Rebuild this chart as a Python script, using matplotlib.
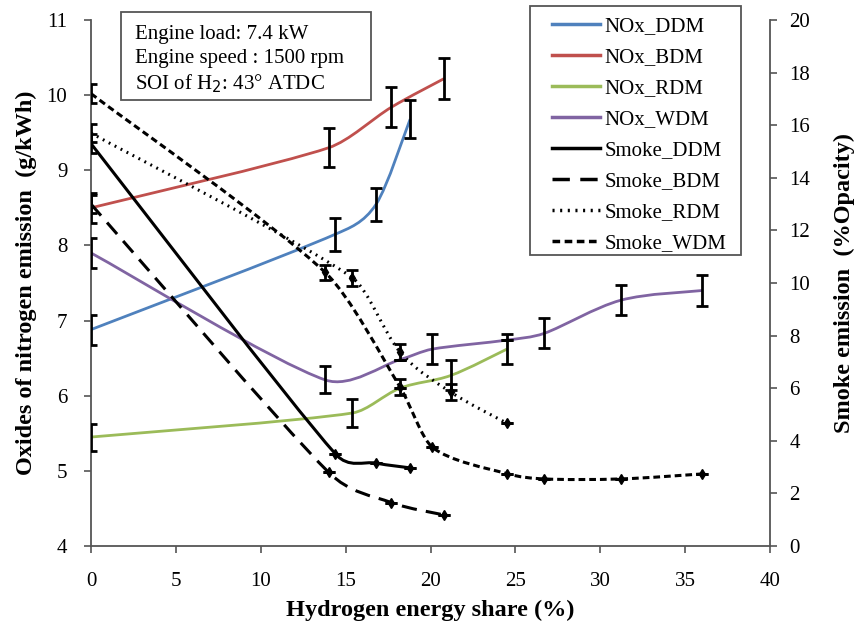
import matplotlib
matplotlib.use("Agg")
import matplotlib.pyplot as plt
import numpy as np
from matplotlib.path import Path
from matplotlib.patches import PathPatch, Rectangle
from matplotlib.lines import Line2D

plt.rcParams['font.family'] = ['Liberation Serif', 'DejaVu Serif']

# ---- data ----
x_ddm = [0, 14.4, 16.8, 18.8]
nox_ddm = [6.88, 8.15, 8.55, 9.68]
smoke_ddm = [15.3, 3.5, 3.15, 2.97]

x_bdm = [0, 14.0, 17.7, 20.8]
nox_bdm = [8.5, 9.3, 9.84, 10.22]
smoke_bdm = [13.0, 2.8, 1.65, 1.18]

x_rdm = [0, 15.4, 18.2, 21.2, 24.5]
nox_rdm = [5.45, 5.77, 6.1, 6.27, 6.62]
smoke_rdm = [15.7, 10.2, 7.38, 5.85, 4.67]

x_wdm = [0, 13.8, 18.2, 20.1, 24.5, 26.7, 31.2, 36.0]
nox_wdm = [7.9, 6.21, 6.48, 6.62, 6.74, 6.83, 7.27, 7.4]
smoke_wdm = [17.2, 10.4, 6.05, 3.76, 2.75, 2.55, 2.55, 2.74]

nox_err_ddm = [0.2, 0.22, 0.22, 0.25]
nox_err_bdm = [0.2, 0.26, 0.27, 0.27]
nox_err_rdm = [0.18, 0.18, 0.0, 0.2, 0.2]
nox_err_wdm = [0.2, 0.18, 0.0, 0.2, 0.0, 0.2, 0.2, 0.2]
smoke_err_ddm = [0.35, 0, 0, 0]
smoke_err_bdm = [0.35, 0, 0, 0]
smoke_err_rdm = [0.35, 0.3, 0.3, 0.3, 0]
smoke_err_wdm = [0.35, 0.3, 0.3, 0, 0, 0, 0, 0]

labels = ['NOx_DDM', 'NOx_BDM', 'NOx_RDM', 'NOx_WDM',
          'Smoke_DDM', 'Smoke_BDM', 'Smoke_RDM', 'Smoke_WDM']
colors = ['#4F81BD', '#C0504D', '#9BBB59', '#8064A2']
info_lines = ['Engine load: 7.4 kW', 'Engine speed : 1500 rpm',
              'SOI of H$_2$: 43° ATDC']


def smooth_path(xs, ys):
    """Excel-like smoothed line: Catmull-Rom Bezier handles, clipped so a
    handle never reaches past one third of its segment in x."""
    p = np.column_stack([xs, ys]).astype(float)
    n = len(p)
    T = np.zeros_like(p)
    for i in range(n):
        a = p[max(i - 1, 0)]
        b = p[min(i + 1, n - 1)]
        T[i] = (b - a) / 6.0
    verts = [tuple(p[0])]
    codes = [Path.MOVETO]
    for i in range(n - 1):
        h = p[i + 1, 0] - p[i, 0]
        t1 = T[i].copy()
        t2 = T[i + 1].copy()
        if abs(t1[0]) > h / 3:
            t1 *= (h / 3) / abs(t1[0])
        if abs(t2[0]) > h / 3:
            t2 *= (h / 3) / abs(t2[0])
        verts += [tuple(p[i] + t1), tuple(p[i + 1] - t2), tuple(p[i + 1])]
        codes += [Path.CURVE4] * 3
    return Path(verts, codes)


fig = plt.figure(figsize=(8.58, 6.31), dpi=100)
ax = fig.add_axes([91 / 858, 85 / 631, 679 / 858, 526 / 631])
ax2 = ax.twinx()

ax.set_xlim(0, 40)
ax.set_ylim(4, 11)
ax2.set_ylim(0, 20)
ax.set_xticks(np.arange(0, 41, 5))
ax.set_yticks(np.arange(4, 12, 1))
ax2.set_yticks(np.arange(0, 21, 2))

for a in (ax, ax2):
    a.spines['top'].set_visible(False)
    for s in a.spines.values():
        s.set_color('#555555')
        s.set_linewidth(1.3)
    a.tick_params(labelsize=15, length=5, color='#555555', width=1.2)
ax.spines['right'].set_visible(False)
ax2.spines['left'].set_visible(False)
ax2.spines['bottom'].set_visible(False)
ax.tick_params(axis='x', pad=14)
ax.tick_params(axis='y', pad=12)
ax2.tick_params(axis='y', pad=9)

# NOx series (left axis)
nox_sets = [(x_ddm, nox_ddm, nox_err_ddm), (x_bdm, nox_bdm, nox_err_bdm),
            (x_rdm, nox_rdm, nox_err_rdm), (x_wdm, nox_wdm, nox_err_wdm)]
for (xs, ys, es), c in zip(nox_sets, colors):
    ax.add_patch(PathPatch(smooth_path(xs, ys), facecolor='none',
                           edgecolor=c, lw=2.0, transform=ax.transData, zorder=3))
    ax.errorbar(xs, ys, yerr=es, fmt='none', ecolor='black', elinewidth=2,
                capsize=4, capthick=2, zorder=4)

# Smoke series (right axis)
smoke_styles = [dict(linestyle='-'),
                dict(linestyle=(0, (5, 3))),
                dict(linestyle=(0, (0.6, 1.6))),
                dict(linestyle=(0, (2.2, 1.3)))]
smoke_sets = [(x_ddm, smoke_ddm, smoke_err_ddm), (x_bdm, smoke_bdm, smoke_err_bdm),
              (x_rdm, smoke_rdm, smoke_err_rdm), (x_wdm, smoke_wdm, smoke_err_wdm)]
for (xs, ys, es), st in zip(smoke_sets, smoke_styles):
    patch = PathPatch(smooth_path(xs, ys), facecolor='none',
                      edgecolor='black', lw=2.2, transform=ax2.transData, zorder=3)
    patch.set_linestyle(st['linestyle'])
    ax2.add_patch(patch)
    ax2.plot(xs[1:], ys[1:], linestyle='none', marker='d', markersize=5,
             color='black', zorder=4)
    ax2.errorbar(xs, ys, yerr=es, fmt='none', ecolor='black', elinewidth=2,
                 capsize=4, capthick=2, zorder=4)

ax.set_xlabel('Hydrogen energy share (%)', fontsize=17.5, fontweight='bold', labelpad=6)
ax.set_ylabel('Oxides of nitrogen emission  (g/kWh)', fontsize=17.5,
              fontweight='bold', labelpad=7)
ax2.set_ylabel('Smoke emission  (%Opacity)', fontsize=17.5, fontweight='bold',
               labelpad=17)

# annotation box
fig.patches.append(Rectangle((121 / 858, 1 - 100 / 631), 250 / 858, 88 / 631,
                             transform=fig.transFigure, facecolor='white',
                             edgecolor='#555555', linewidth=1.3, zorder=5))
for k, line in enumerate(info_lines):
    fig.text(135 / 858, 1 - (32 + 24.5 * k) / 631, line, fontsize=15,
             va='center_baseline', ha='left', zorder=6)

# legend (frame drawn separately)
fig.patches.append(Rectangle((530 / 858, 1 - 255 / 631), 211 / 858, 249 / 631,
                             transform=fig.transFigure, facecolor='white',
                             edgecolor='#555555', linewidth=1.3, zorder=5))
handles = [Line2D([], [], color=c, lw=2.5) for c in colors]
handles += [Line2D([], [], color='black', lw=2.5, **st) for st in smoke_styles]
leg = fig.legend(handles, labels, loc='upper left',
                 bbox_to_anchor=(541 / 858, 1 - 5 / 631),
                 fontsize=15, frameon=False,
                 labelspacing=0.55, handlelength=2.3, handletextpad=0.2,
                 borderpad=0.55, borderaxespad=0)
leg.set_zorder(6)

fig.savefig('out.png', dpi=100)
